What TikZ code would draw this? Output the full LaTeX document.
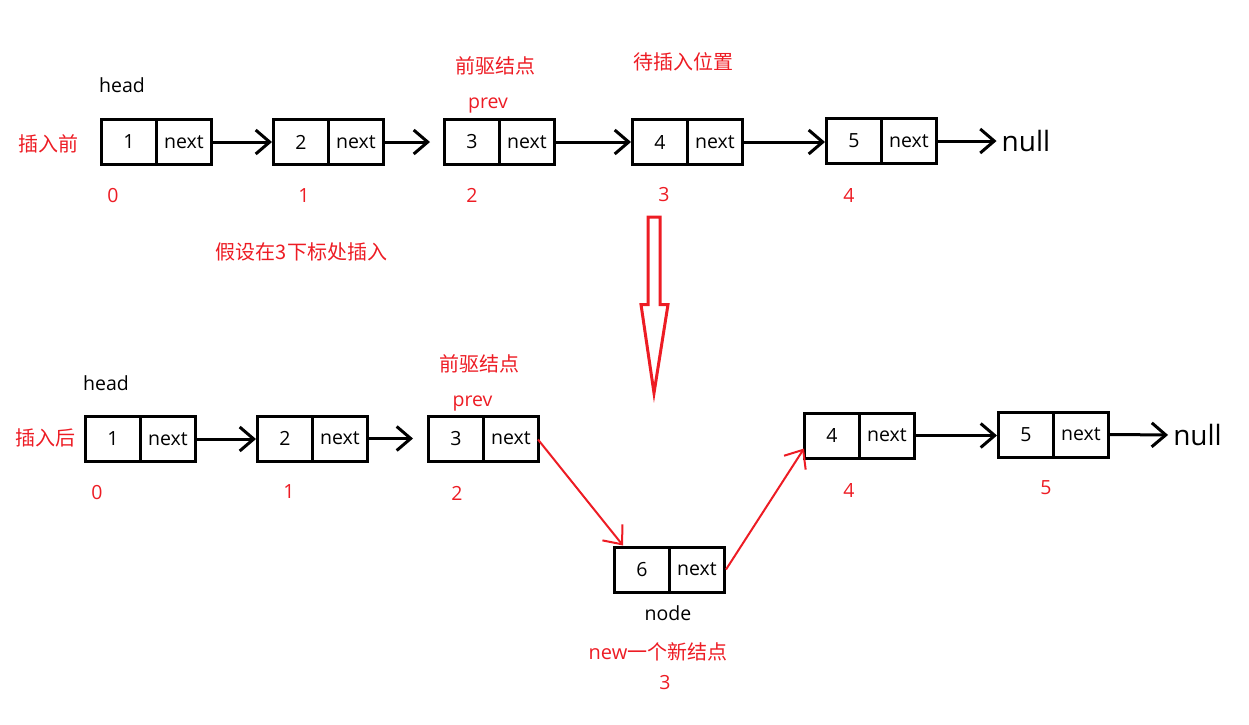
\documentclass[tikz,border=0pt]{standalone}
\usepackage{fontspec}
\setmainfont{Open Sans}
\newfontfamily\cjk{Noto Sans CJK SC}
\usetikzlibrary{arrows.meta,calc}
\definecolor{pred}{RGB}{237,28,36}
\begin{document}
\begin{tikzpicture}[x=1pt,y=-1pt,
  cell/.style={draw,line width=3pt,minimum width=55pt,minimum height=45pt,inner sep=0pt,font=\fontsize{19.5}{23}\selectfont},
  lab/.style={inner sep=0pt,font=\fontsize{19.5}{23}\selectfont},
  rlab/.style={lab,text=pred},
  nulllab/.style={inner sep=0pt,font=\fontsize{28}{32}\selectfont},
  cjklab/.style={inner sep=0pt,text=pred,font=\cjk\fontsize{20}{24}\selectfont},
  link/.style={line width=3pt,-{Straight Barb[length=14pt,width=24pt]}},
  rlink/.style={line width=2pt,pred,-{Straight Barb[angle=80:20pt]}},
  bigarrow/.style={draw=pred,line width=3pt,line join=miter}
]
\useasboundingbox (0,0) rectangle (1249,724);

% ---------- top row (before insertion) ----------
\node[cell] (t1v) at (129,142) {1};
\node[cell] (t1n) at (184,142) {next};
\node[cell] (t2v) at (301,142) {2};
\node[cell] (t2n) at (356,142) {next};
\node[cell] (t3v) at (472,142) {3};
\node[cell] (t3n) at (527,142) {next};
\node[cell] (t4v) at (660,142) {4};
\node[cell] (t4n) at (715,142) {next};
\node[cell] (t5v) at (854,141) {5};
\node[cell] (t5n) at (909,141) {next};
\node[nulllab] (tnull) at (1026,141) {null};

\draw[link] (t1n.east) -- (t2v.west);
\draw[link,shorten >=13pt] (t2n.east) -- (t3v.west);
\draw[link] (t3n.east) -- (t4v.west);
\draw[link] (t4n.east) -- (t4n.east -| t5v.west);
\draw[link,shorten >=5pt] (t5n.east) -- (tnull.west);

\node[lab] (thead) at (122,85.5) {head};
\node[cjklab] (tbefore) at (48.5,143.5) {插入前};
\node[rlab] (ti0) at (113,196) {0};
\node[rlab] (ti1) at (304,196) {1};
\node[rlab] (ti2) at (472,195.5) {2};
\node[rlab] (ti3) at (664,195) {3};
\node[rlab] (ti4) at (849,195) {4};
\node[cjklab] (tpre) at (495,66) {前驱结点};
\node[rlab] (tprev) at (488,105.5) {prev};
\node[cjklab] (tpos) at (683,61.5) {待插入位置};
\node[cjklab] (assume) at (301.5,252) {假设在3下标处插入};

% ---------- big hollow arrow ----------
\draw[bigarrow] (648,217) -- (660,217) -- (660,304.5) -- (668,304.5) -- (654,393)
  -- (641,304.5) -- (648,304.5) -- cycle;

% ---------- bottom row (after insertion) ----------
\node[cell] (b1v) at (113,439) {1};
\node[cell] (b1n) at (168,439) {next};
\node[cell] (b2v) at (285,438.5) {2};
\node[cell] (b2n) at (340,438.5) {next};
\node[cell] (b3v) at (456,438.5) {3};
\node[cell] (b3n) at (511,438.5) {next};
\node[cell] (b6v) at (642,569.5) {6};
\node[cell] (b6n) at (697,569.5) {next};
\node[cell] (b4v) at (832,435.5) {4};
\node[cell] (b4n) at (887,435.5) {next};
\node[cell] (b5v) at (1026,434.5) {5};
\node[cell] (b5n) at (1081,434.5) {next};
\node[nulllab] (bnull) at (1197.5,435) {null};

\draw[link] (b1n.east) -- (b1n.east -| b2v.west);
\draw[link,shorten >=14pt] (b2n.east) -- (b3v.west);
\draw[link] (b4n.east) -- (b4n.east -| b5v.west);
\draw[link,shorten >=5pt] (b5n.east) -- (bnull.west);

\draw[rlink] ($(b3n.east)+(-2,1)$) -- ($(b6v.north west)+(10,0)$);
\draw[rlink] (b6n.east) -- ($(b4v.south west)+(1,-11)$);

\node[lab] (bhead) at (106,383) {head};
\node[cjklab] (bafter) at (45.5,437.5) {插入后};
\node[rlab] (bi0) at (97,493) {0};
\node[rlab] (bi1) at (289,492) {1};
\node[rlab] (bi2) at (457,493) {2};
\node[rlab] (bi4) at (849,490) {4};
\node[rlab] (bi5) at (1046,488) {5};
\node[cjklab] (bpre) at (479,363.5) {前驱结点};
\node[rlab] (bprev) at (472.5,403.5) {prev};
\node[lab] (bnode) at (668,613) {node};
\node[cjklab] (bnew) at (658,652) {{\fontspec{Open Sans}new}一个新结点};
\node[rlab] (bi3) at (665,683) {3};
\end{tikzpicture}
\end{document}
